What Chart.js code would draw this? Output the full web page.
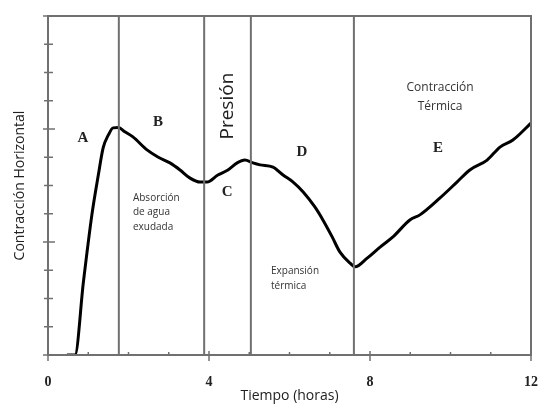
<!DOCTYPE html>
<html>
<head>
<meta charset="utf-8">
<script src="https://cdn.jsdelivr.net/npm/chart.js@4/dist/chart.umd.min.js"></script>
<style>
  html, body { margin: 0; padding: 0; background: #fff; }
  #wrap { width: 540px; height: 404px; }
</style>
</head>
<body>
<div id="wrap"><canvas id="contraction-chart"></canvas></div>
<script>
// curve (hours, horizontal contraction)
let hours = [0.47, 0.67, 0.88, 1.09, 1.25, 1.37, 1.50, 1.62, 1.75, 1.91, 2.11, 2.46, 2.73, 3.03, 3.28, 3.52, 3.78, 3.95,
    4.22, 4.47, 4.70, 4.89, 5.09, 5.27, 5.59, 5.84, 6.09, 6.34, 6.63, 6.83, 7.06, 7.25, 7.50, 7.63,
    7.93, 8.25, 8.57, 8.99, 9.24, 9.74, 10.16, 10.48, 10.91, 11.23, 11.55, 12.0];
let contraction = [0, 0, 2.59, 4.96, 6.37, 7.33, 7.79, 8.04, 8.05, 7.90, 7.72, 7.26, 7.01, 6.80, 6.55, 6.27, 6.12, 6.12,
    6.37, 6.55, 6.80, 6.90, 6.80, 6.73, 6.65, 6.37, 6.12, 5.77, 5.24, 4.78, 4.18, 3.65, 3.26, 3.12,
    3.43, 3.82, 4.18, 4.78, 4.96, 5.56, 6.12, 6.55, 6.90, 7.36, 7.61, 8.21];
let phaseBounds = [1.76, 3.88, 5.04, 7.6];
let phaseLetters = ['A', 'B', 'C', 'D', 'E'];
let xTickLabels = ['0', '4', '8', '12'];

let points = [];
for (let i in hours) {
    points.push({x: hours[i], y: contraction[i]});
}

const frameColor = '#707070';
const sans = '"Open Sans", "Noto Sans", sans-serif';
const serif = '"Liberation Serif", "DejaVu Serif", serif';

// frame, phase lines, tick marks and labels inside the plot
const phasePlugin = {
    id: 'phases',
    afterDatasetsDraw(chart) {
        const ctx = chart.ctx;
        const a = chart.chartArea;
        const xs = chart.scales.x, ys = chart.scales.y;
        ctx.save();
        ctx.strokeStyle = frameColor;
        ctx.lineWidth = 2;
        phaseBounds.forEach(b => {
            let px = xs.getPixelForValue(b);
            ctx.beginPath();
            ctx.moveTo(px, a.top);
            ctx.lineTo(px, a.bottom);
            ctx.stroke();
        });
        ctx.strokeRect(a.left, a.top, a.right - a.left, a.bottom - a.top);

        ctx.lineWidth = 1.5;
        ys.ticks.forEach(t => {
            let py = ys.getPixelForValue(t.value);
            let major = t.value % 4 === 0;
            ctx.beginPath();
            ctx.moveTo(a.left - (major ? 5 : 4), py);
            ctx.lineTo(a.left + (major ? 7 : 5), py);
            ctx.stroke();
        });
        xs.ticks.forEach(t => {
            let px = xs.getPixelForValue(t.value);
            let major = t.value % 4 === 0;
            ctx.beginPath();
            ctx.moveTo(px, a.bottom + (major ? 6 : 0));
            ctx.lineTo(px, a.bottom - (major ? 4 : 3));
            ctx.stroke();
        });

        const put = (txt, x, y, font, color, align) => {
            ctx.font = font;
            ctx.fillStyle = color;
            ctx.textAlign = align || 'center';
            ctx.textBaseline = 'middle';
            ctx.fillText(txt, xs.getPixelForValue(x), ys.getPixelForValue(y));
        };
        const letterFont = 'bold 15px ' + serif;
        const letterPos = [[0.87, 7.68], [2.73, 8.25], [4.45, 5.77], [6.31, 7.19], [9.69, 7.33]];
        phaseLetters.forEach((l, i) => put(l, letterPos[i][0], letterPos[i][1], letterFont, '#222'));

        put('Absorción', 2.11, 5.56, '10px ' + sans, '#333', 'left');
        put('de agua', 2.11, 5.06, '10px ' + sans, '#333', 'left');
        put('exudada', 2.11, 4.53, '10px ' + sans, '#333', 'left');
        put('Expansión', 5.54, 2.97, '10px ' + sans, '#333', 'left');
        put('térmica', 5.54, 2.44, '10px ' + sans, '#333', 'left');
        put('Contracción', 9.74, 9.45, '12px ' + sans, '#333');
        put('Térmica', 9.74, 8.78, '12px ' + sans, '#333');

        ctx.translate(xs.getPixelForValue(4.45), ys.getPixelForValue(8.81));
        ctx.rotate(-Math.PI / 2);
        ctx.font = '19px ' + sans;
        ctx.fillStyle = '#222';
        ctx.textAlign = 'center';
        ctx.textBaseline = 'middle';
        ctx.fillText('Presión', 0, 0);
        ctx.restore();
    }
};

const chartConfig = {
    type: 'line',
    data: {
        datasets: [{
            data: points,
            borderColor: '#000',
            borderWidth: 3,
            pointRadius: 0,
            cubicInterpolationMode: 'monotone',
            fill: false,
        }]
    },
    options: {
        responsive: true,
        maintainAspectRatio: false,
        animation: false,
        layout: {padding: {top: 16, right: 9, left: 0, bottom: 0}},
        plugins: {
            legend: {display: false},
            tooltip: {enabled: false},
        },
        scales: {
            x: {
                type: 'linear',
                min: 0,
                max: 12,
                grid: {display: false, drawTicks: false},
                border: {display: false},
                ticks: {
                    stepSize: 1,
                    autoSkip: false,
                    maxRotation: 0,
                    padding: 19,
                    color: '#222',
                    font: {family: serif, size: 14, weight: 'bold'},
                    callback: v => (v % 4 === 0 ? xTickLabels[v / 4] : ''),
                },
                title: {
                    display: true,
                    text: 'Tiempo (horas)',
                    color: '#222',
                    font: {family: sans, size: 14},
                    padding: {top: 0, bottom: 0},
                },
                afterFit: s => { s.height = 49; s.paddingLeft = 0; s.paddingRight = 0; },
            },
            y: {
                min: 0,
                max: 12,
                grid: {display: false, drawTicks: false},
                border: {display: false},
                ticks: {stepSize: 1, display: false},
                title: {
                    display: true,
                    text: 'Contracción Horizontal',
                    color: '#222',
                    font: {family: sans, size: 14},
                    padding: {top: 12, bottom: 0},
                },
                afterFit: s => { s.width = 48; s.paddingTop = 0; s.paddingBottom = 0; },
            }
        }
    },
    plugins: [phasePlugin]
};

const contractionChart = new Chart(
    document.getElementById('contraction-chart'),
    chartConfig
);
</script>
</body>
</html>
